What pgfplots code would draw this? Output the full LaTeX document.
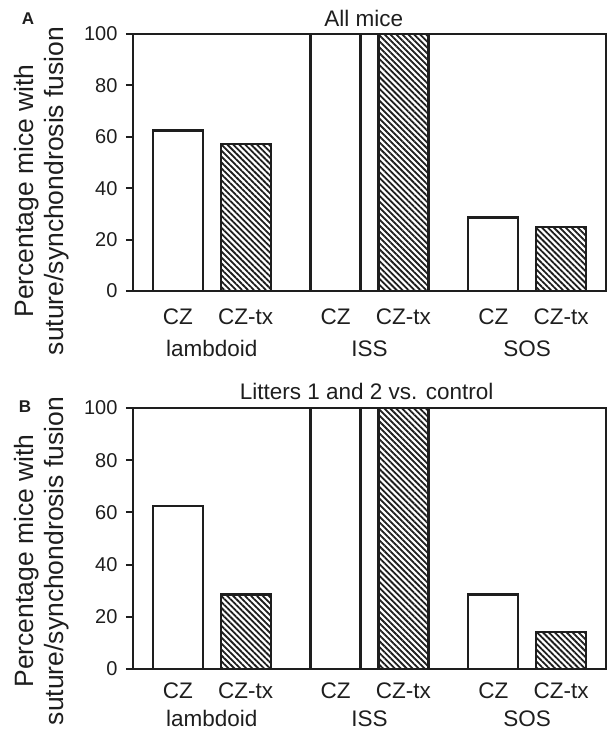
\documentclass[border=0pt]{standalone}
\usepackage{fontspec}
\setmainfont{Liberation Sans}
\usepackage{pgfplots}
\pgfplotsset{compat=1.18}
\usetikzlibrary{patterns.meta}
\definecolor{ink}{RGB}{30,30,30}

\pgfplotsset{
  fusionpanel/.style={
    scale only axis, width=473pt,
    xmin=-0.5, xmax=2.5, ymin=0, ymax=100,
    axis line style={line width=2.3pt, draw=ink},
    ytick={0,20,...,100}, ytick pos=left,
    tick align=outside, major tick length=7pt,
    every tick/.style={draw=ink, line width=2pt},
    xtick={-0.215,0.215,0.785,1.215,1.785,2.215},
    xticklabels={CZ,CZ-tx,CZ,CZ-tx,CZ,CZ-tx},
    x tick style={draw=none},
    xticklabel style={anchor=base, text=ink, font=\fontsize{22.5}{26}\selectfont},
    yticklabel style={text=ink, font=\fontsize{20}{24}\selectfont, xshift=-5pt},
    /pgf/number format/assume math mode=true,
    clip=false,
  },
  ctrl/.style={ybar, bar width=50pt, bar shift=0pt, draw=ink, line width=2.3pt, fill=white},
  treated/.style={ybar, bar width=50pt, bar shift=0pt, draw=ink, line width=2.3pt, fill=white,
    postaction={pattern={Lines[angle=-45, distance=4.2pt, line width=1.8pt]}, pattern color=ink}},
}
\tikzset{
  grp/.style={anchor=base, text=ink, font=\fontsize{22.5}{26}\selectfont},
  ylab/.style={rotate=90, anchor=base, text=ink, font=\fontsize{26.5}{30}\selectfont},
}

\begin{document}
\begin{tikzpicture}
\path[use as bounding box] (0pt,0pt) rectangle (608pt,731pt);

% panel A: all mice
\begin{axis}[fusionpanel, height=257pt, at={(133pt,440pt)}, anchor=south west,
  xticklabel style={yshift=-27pt}]
  \addplot[ctrl] coordinates {(-0.215,62.5) (0.785,100) (1.785,28.6)};
  \addplot[treated] coordinates {(0.215,57.1) (1.215,100) (2.215,25.0)};
  \node[grp] at (axis cs:0,0) [yshift=-66pt] {lambdoid};
  \node[grp] at (axis cs:1,0) [yshift=-66pt] {ISS};
  \node[grp] at (axis cs:2,0) [yshift=-66pt] {SOS};
  \node[grp] at (rel axis cs:0.488,1) [yshift=7pt] {All mice};
\end{axis}

% panel B: litters 1 and 2 vs. control
\begin{axis}[fusionpanel, height=261pt, at={(133pt,62pt)}, anchor=south west,
  xticklabel style={yshift=-22pt}]
  \addplot[ctrl] coordinates {(-0.215,62.5) (0.785,100) (1.785,28.6)};
  \addplot[treated] coordinates {(0.215,28.6) (1.215,100) (2.215,14.3)};
  \node[grp] at (axis cs:0,0) [yshift=-57pt] {lambdoid};
  \node[grp] at (axis cs:1,0) [yshift=-57pt] {ISS};
  \node[grp] at (axis cs:2,0) [yshift=-57pt] {SOS};
  \node[grp] at (rel axis cs:0.494,1) [yshift=8pt] {Litters 1 and 2 vs. control};
\end{axis}

\node[ylab] at (34pt,540pt) {Percentage mice with};
\node[ylab] at (63pt,540pt) {suture/synchondrosis fusion};
\node[ylab] at (34pt,170pt) {Percentage mice with};
\node[ylab] at (63pt,170pt) {suture/synchondrosis fusion};

\node[text=ink, font=\fontsize{17}{20}\selectfont\bfseries] at (28pt,712pt) {A};
\node[text=ink, font=\fontsize{17}{20}\selectfont\bfseries] at (25pt,324pt) {B};
\end{tikzpicture}
\end{document}
